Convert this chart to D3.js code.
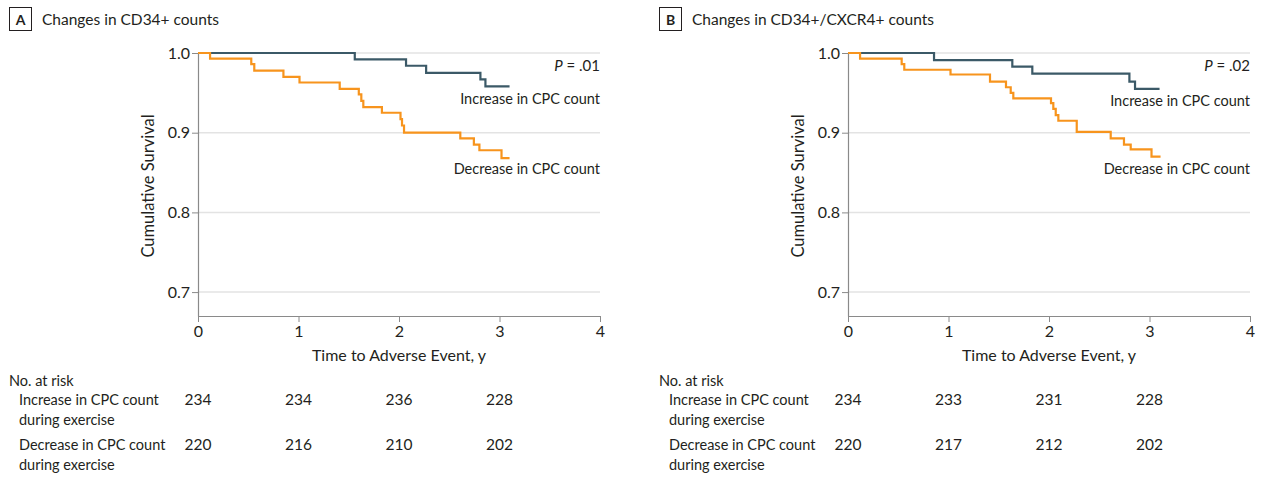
<!DOCTYPE html>
<html>
<head>
<meta charset="utf-8">
<script src="https://cdn.jsdelivr.net/npm/d3@7"></script>
<style>
  html, body { margin: 0; padding: 0; background: #fff; }
  svg { display: block; }
  text { font-family: Lato, "Open Sans", sans-serif; fill: #231f20; }
</style>
</head>
<body>
<svg id="chart" width="1270" height="479"></svg>
<script>
// ---- Data ----
const panelLetters = ["A", "B"];
const panelTitles = ["Changes in CD34+ counts", "Changes in CD34+/CXCR4+ counts"];
const pValues = [".01", ".02"];
const seriesLabels = ["Increase in CPC count", "Decrease in CPC count"];

const xTicks = [0, 1, 2, 3, 4];
const yTicks = [0.7, 0.8, 0.9, 1.0];

// Panel A
const aIncTimes = [0, 1.56, 2.07, 2.27, 2.81, 2.86, 3.10];
const aIncSurv  = [1.0, 0.992, 0.984, 0.975, 0.967, 0.958, 0.958];
const aDecTimes = [0, 0.12, 0.53, 0.56, 0.85, 1.01, 1.41, 1.60, 1.625, 1.645, 1.83, 2.015, 2.03, 2.05, 2.61, 2.745, 2.80, 3.02, 3.10];
const aDecSurv  = [1.0, 0.993, 0.986, 0.978, 0.970, 0.963, 0.955, 0.948, 0.940, 0.932, 0.925, 0.917, 0.909, 0.900, 0.893, 0.885, 0.878, 0.868, 0.868];

// Panel B
const bIncTimes = [0, 0.856, 1.635, 1.834, 2.80, 2.856, 3.10];
const bIncSurv  = [1.0, 0.991, 0.983, 0.974, 0.964, 0.955, 0.955];
const bDecTimes = [0, 0.12, 0.534, 0.56, 1.02, 1.413, 1.572, 1.619, 1.645, 2.02, 2.043, 2.067, 2.093, 2.276, 2.614, 2.746, 2.813, 3.02, 3.11];
const bDecSurv  = [1.0, 0.993, 0.986, 0.979, 0.973, 0.964, 0.957, 0.950, 0.943, 0.937, 0.930, 0.922, 0.915, 0.901, 0.893, 0.885, 0.879, 0.870, 0.870];

// Numbers at risk
const riskTimes = [0, 1, 2, 3];
const riskGroupLabels = [["Increase in CPC count", "during exercise"], ["Decrease in CPC count", "during exercise"]];
const aRiskInc = [234, 234, 236, 228];
const aRiskDec = [220, 216, 210, 202];
const bRiskInc = [234, 233, 231, 228];
const bRiskDec = [220, 217, 212, 202];

// ---- Drawing ----
const colors = { inc: "#3b5967", dec: "#f7941d" };
const svg = d3.select("#chart");

const panels = [
  { inc: [aIncTimes, aIncSurv], dec: [aDecTimes, aDecSurv], risk: [aRiskInc, aRiskDec], incLabelY: 104, decLabelY: 174 },
  { inc: [bIncTimes, bIncSurv], dec: [bDecTimes, bDecSurv], risk: [bRiskInc, bRiskDec], incLabelY: 106, decLabelY: 174 }
];

panels.forEach((p, i) => {
  const ox = i * 650;
  const g = svg.append("g").attr("transform", `translate(${ox},0)`);

  // header
  g.append("rect").attr("x", 9.5).attr("y", 7.5).attr("width", 22).attr("height", 23)
    .attr("fill", "none").attr("stroke", "#231f20").attr("stroke-width", 1);
  g.append("text").attr("x", 20.5).attr("y", 24.5).attr("text-anchor", "middle")
    .attr("font-size", 14).attr("font-weight", "bold").text(panelLetters[i]);
  g.append("text").attr("x", 42).attr("y", 25).attr("font-size", 15.5).text(panelTitles[i]);

  const x = d3.scaleLinear().domain([0, 4]).range([198, 600]);
  const y = d3.scaleLinear().domain([0.67, 1.0]).range([316, 53]);

  // grid
  g.append("g").selectAll("line").data(yTicks).join("line")
    .attr("x1", 198).attr("x2", 600)
    .attr("y1", d => y(d)).attr("y2", d => y(d))
    .attr("stroke", "#e3e3e3").attr("stroke-width", 1.5);

  // y axis
  const yAxis = g.append("g").attr("transform", "translate(198,0)")
    .call(d3.axisLeft(y).tickValues(yTicks).tickFormat(d3.format(".1f")).tickSize(6).tickSizeOuter(0));
  yAxis.select(".domain").attr("stroke", "#8a8a8a").attr("stroke-width", 1.2);
  yAxis.selectAll(".tick line").attr("stroke", "#8a8a8a");
  yAxis.selectAll(".tick text").attr("font-size", 16).attr("font-family", null).attr("x", -8).attr("fill", "#231f20");

  // x axis
  const xAxis = g.append("g").attr("transform", "translate(0,316)")
    .call(d3.axisBottom(x).tickValues(xTicks).tickFormat(d3.format("d")).tickSize(6).tickSizeOuter(0));
  xAxis.select(".domain").attr("stroke", "#8a8a8a").attr("stroke-width", 1.2);
  xAxis.selectAll(".tick line").attr("stroke", "#8a8a8a");
  xAxis.selectAll(".tick text").attr("font-size", 16).attr("font-family", null).attr("y", 10).attr("fill", "#231f20");

  // axis titles
  g.append("text").attr("x", 399).attr("y", 361).attr("text-anchor", "middle")
    .attr("font-size", 16).text("Time to Adverse Event, y");
  g.append("text").attr("transform", "translate(154,186) rotate(-90)").attr("text-anchor", "middle")
    .attr("font-size", 16.5).text("Cumulative Survival");

  // curves
  const line = d3.line().x(d => x(d[0])).y(d => y(d[1])).curve(d3.curveStepAfter);
  const incPts = d3.zip(p.inc[0], p.inc[1]);
  const decPts = d3.zip(p.dec[0], p.dec[1]);
  g.append("path").datum(incPts).attr("d", line).attr("fill", "none")
    .attr("stroke", colors.inc).attr("stroke-width", 2.2);
  g.append("path").datum(decPts).attr("d", line).attr("fill", "none")
    .attr("stroke", colors.dec).attr("stroke-width", 2.2);

  // labels
  const pt = g.append("text").attr("x", 600).attr("y", 71).attr("text-anchor", "end").attr("font-size", 15);
  pt.append("tspan").attr("font-style", "italic").text("P");
  pt.append("tspan").text(" = " + pValues[i]);
  g.append("text").attr("x", 600).attr("y", p.incLabelY).attr("text-anchor", "end")
    .attr("font-size", 14.5).text(seriesLabels[0]);
  g.append("text").attr("x", 600).attr("y", p.decLabelY).attr("text-anchor", "end")
    .attr("font-size", 14.5).text(seriesLabels[1]);

  // risk table
  g.append("text").attr("x", 9).attr("y", 386).attr("font-size", 14.5).text("No. at risk");
  const rowY = [405, 450];
  p.risk.forEach((vals, r) => {
    riskGroupLabels[r].forEach((lbl, k) => {
      g.append("text").attr("x", 19).attr("y", rowY[r] + k * 20).attr("font-size", 14.5).text(lbl);
    });
    g.append("g").selectAll("text").data(vals).join("text")
      .attr("x", (d, k) => x(riskTimes[k])).attr("y", rowY[r])
      .attr("text-anchor", "middle").attr("font-size", 15.5).text(d => d);
  });
});
</script>
</body>
</html>
